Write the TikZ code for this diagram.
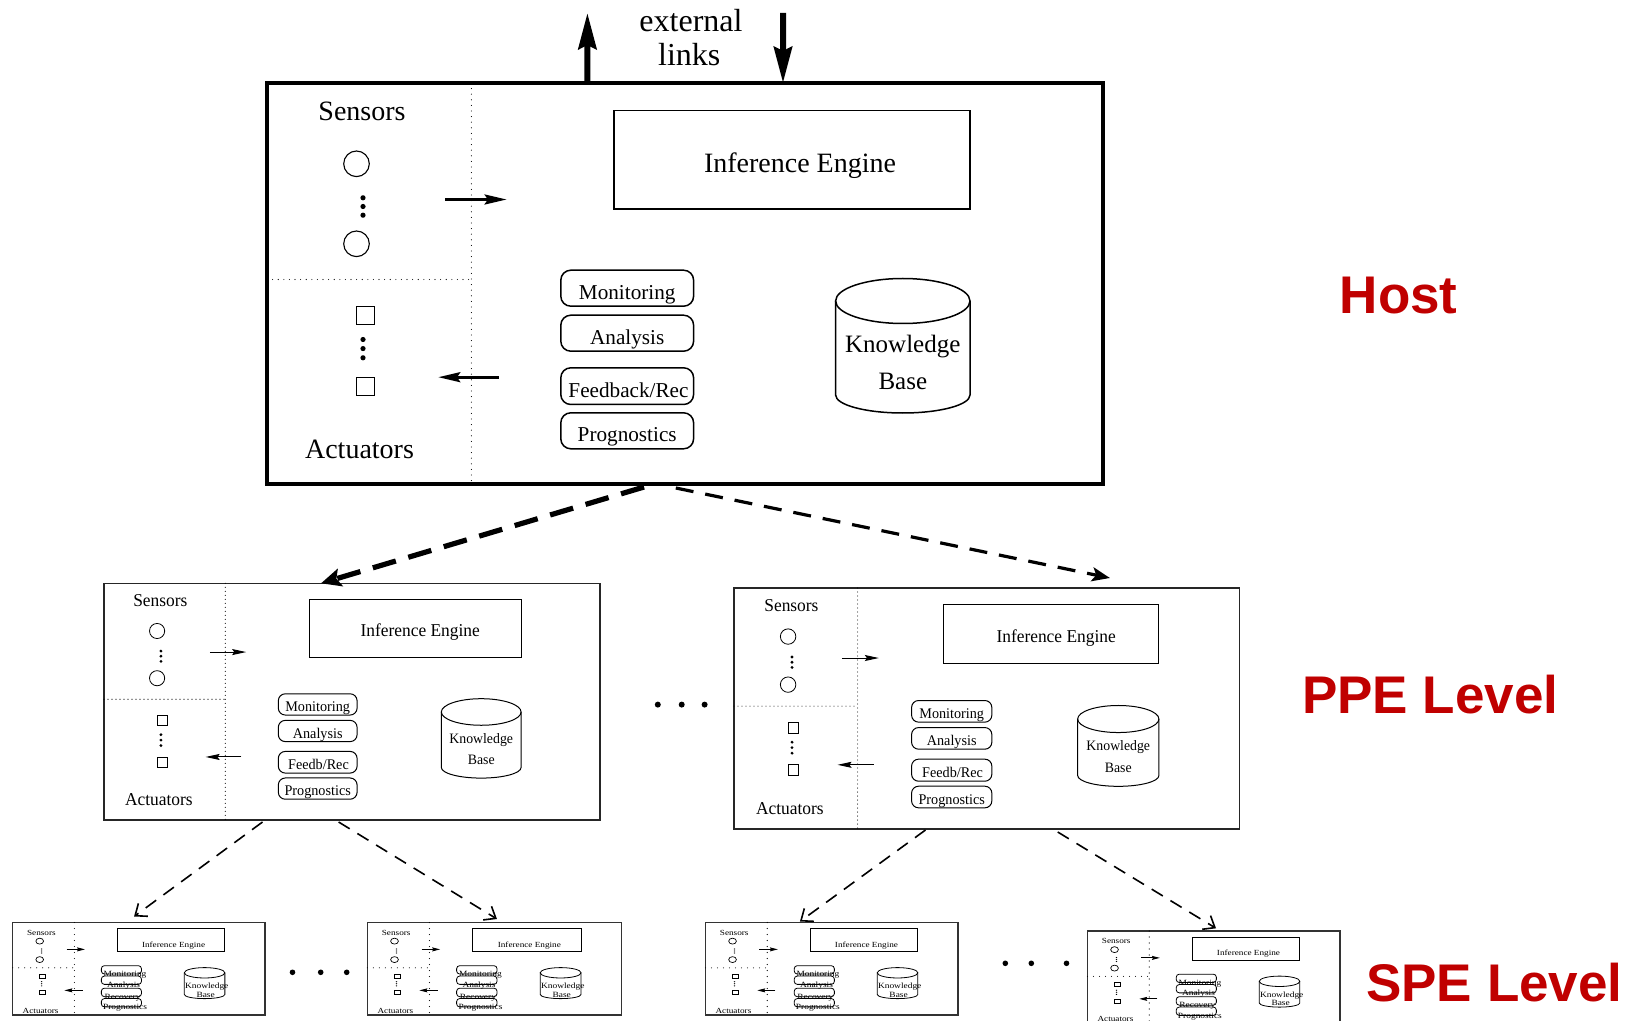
\documentclass[tikz,border=0pt]{standalone}
\usepackage{fontspec}
\setmainfont{Liberation Serif}
\newfontfamily\labelfont{Liberation Sans}
\usetikzlibrary{arrows.meta,calc}
\definecolor{lvlred}{RGB}{192,0,0}

\newcommand\T[1]{\scalebox{1}[\Tys]{#1}}
\newcommand\fs[1]{\fontsize{#1}{#1}\selectfont}

\tikzset{
  txt/.style={inner sep=0pt, outer sep=0pt, text height=0.66em, text depth=0pt},
  outerbox/.style={draw, inner sep=0pt, outer sep=0pt, anchor=north west},
  dotline/.style={line width=0.55pt, line cap=round, dash pattern=on 0pt off \Dg},
  inarrow/.style={line width=\Alw, -{Stealth[length=\Alen, width=\Awid, inset=0.15*\Alen]}},
  extarrow/.style={line width=3pt, -{Stealth[length=18pt, width=9pt, inset=2pt]}},
  hdashA/.style={line width=2.6pt, dash pattern=on 12pt off 6.5pt, -{Stealth[length=10pt, width=9pt, inset=2pt]}},
  hdashB/.style={line width=1.6pt, dash pattern=on 9pt off 6pt, -{Stealth[length=9pt, width=7pt, inset=2pt]}},
  ldash/.style={line width=0.8pt, dash pattern=on 6.5pt off 4.5pt, -{Straight Barb[length=5pt, width=8pt, line width=0.8pt]}},
  lvllabel/.style={anchor=base, inner sep=0pt, font=\labelfont\bfseries\fs{26.5}, text=lvlred},
}

% #1 name, #2 x, #3 y, #4 w, #5 h, #6 feedback label, #7 outer box options
\newcommand\unitbox[7]{%
  \node[outerbox, #7, minimum width=#4*0.5pt, minimum height=#5*0.5pt] (#1) at (#2,#3) {};
  \begin{scope}[shift={(#2,#3)}, xscale=#4/836, yscale=#5/401]
    \draw[dotline] (204.4,0) -- (204.4,401);
    \draw[dotline] (0,196.5) -- (204.4,196.5);
    \node[txt, font=\fs{\Fmain}] (#1-sensors) at (95,27.7+\Ty) {\T{Sensors}};
    \node[txt, font=\fs{\Fmain}] (#1-actuators) at (92.5,365.7+\Ty) {\T{Actuators}};
    \draw[line width=\Slw] (89.5,80.8) circle[radius=12.8] (89.5,160.8) circle[radius=12.8];
    \fill (96,114.8) circle[radius=2.6] (96,123.5) circle[radius=2.6] (96,132.2) circle[radius=2.6];
    \draw[line width=\Slw] (89.2,223.5) rectangle (107.2,241.5) (89.2,294.2) rectangle (107.2,312.2);
    \fill (96,256.5) circle[radius=2.6] (96,265.6) circle[radius=2.6] (96,274.8) circle[radius=2.6];
    \draw[inarrow] (178.4,116.5) -- (239.6,116.5);
    \draw[inarrow] (231.5,294.2) -- (171.3,294.2);
    \draw[line width=\Ilw] (347,27.5) rectangle (703,125.8);
    \node[txt, font=\fs{\Fmain}] (#1-ie) at (533,79+\Ty) {\T{Inference Engine}};
    \draw[line width=\Ilw, rounded corners=\Rc] (293.8,187.2) rectangle (426.6,223.2);
    \draw[line width=\Ilw, rounded corners=\Rc] (293.8,232.2) rectangle (426.6,268.2);
    \draw[line width=\Ilw, rounded corners=\Rc] (293.8,284.8) rectangle (426.6,321.5);
    \draw[line width=\Ilw, rounded corners=\Rc] (293.8,329.8) rectangle (426.6,365.8);
    \node[txt, font=\fs{\Fbox}] (#1-mon) at (360.2+\Bx,206.2+\Ty) {\T{Monitoring}};
    \node[txt, font=\fs{\Fbox}] (#1-ana) at (360.2+0.6*\Bx,251.2+\Ty) {\T{Analysis}};
    \node[txt, font=\fs{\Fbox}] (#1-fb) at (361.5+0.2*\Bx,304+\Ty) {\T{#6}};
    \node[txt, font=\fs{\Fbox}] (#1-pro) at (360.2+\Bx,348.8+\Ty) {\T{Prognostics}};
    \draw[line width=\Ilw] (635.8,218) ellipse[x radius=67.2, y radius=22.5];
    \draw[line width=\Ilw] (568.6,218) -- (568.6,312) arc[start angle=180, end angle=0, x radius=67.2, y radius=18] -- (703,218);
    \node[txt, font=\fs{\Fkb}] (#1-kb1) at (635.8+0.6*\Bx,259.6+\Ty) {\T{Knowledge}};
    \node[txt, font=\fs{\Fkb}] (#1-kb2) at (635.8+0.3*\Bx,296+\Ty) {\T{Base}};
  \end{scope}}

\begin{document}
\begin{tikzpicture}[x=0.5pt, y=-0.5pt]
\useasboundingbox (0,0) rectangle (1632,1021);
\fill[white] (0,0) rectangle (1632,1021);

% ---------- Host ----------
\def\Fmain{14}\def\Fbox{10.6}\def\Fkb{12.5}\def\Tys{1}\def\Ty{3.5}\def\Bx{0}
\def\Ilw{0.75pt}\def\Slw{0.55pt}\def\Rc{5pt}\def\Dg{2.8pt}
\def\Alen{11pt}\def\Awid{5pt}\def\Alw{1.4pt}
\unitbox{host}{267}{83}{836}{401}{Feedback/Rec}{line width=2pt}

% ---------- PPE level ----------
\def\Fmain{8.7}\def\Fbox{7.1}\def\Fkb{6.9}\def\Tys{1.04}\def\Ty{0}\def\Bx{0}
\def\Ilw{0.5pt}\def\Slw{0.4pt}\def\Rc{3.5pt}\def\Dg{2pt}
\def\Alen{7pt}\def\Awid{3pt}\def\Alw{0.5pt}
\unitbox{ppeA}{104}{583.3}{496}{236.7}{Feedb/Rec}{line width=0.65pt, draw=black!85}
\unitbox{ppeB}{734}{588}{505.3}{241}{Feedb/Rec}{line width=0.65pt, draw=black!85}

% ---------- SPE level ----------
\def\Fmain{4.6}\def\Fbox{4.7}\def\Fkb{4.7}\def\Tys{0.85}\def\Ty{0}\def\Bx{12}
\def\Ilw{0.4pt}\def\Slw{0.35pt}\def\Rc{1.5pt}\def\Dg{3pt}
\def\Alen{4pt}\def\Awid{2pt}\def\Alw{0.45pt}
\unitbox{speA}{12.7}{922.5}{252.3}{92.5}{Recovery}{line width=0.55pt, draw=black!80}
\unitbox{speB}{367.3}{922.5}{254.2}{92.5}{Recovery}{line width=0.55pt, draw=black!80}
\unitbox{speC}{705.5}{922.5}{252.5}{92.5}{Recovery}{line width=0.55pt, draw=black!80}
\unitbox{speD}{1087.5}{931}{252.5}{92.5}{Recovery}{line width=0.55pt, draw=black!80}

% ---------- external links ----------
\coordinate (extUp) at (587.4,13);
\coordinate (extDn) at (783,13);
\draw[extarrow] ($(host.north west)!0.3833!(host.north east)$) -- (extUp);
\draw[extarrow] (extDn) -- ($(host.north west)!0.6172!(host.north east)$);
\node[anchor=base, inner sep=0pt, font=\fs{16}] (ext1) at (691,31.7) {external};
\node[anchor=base, inner sep=0pt, font=\fs{16}] (ext2) at (689.3,65.7) {links};

% ---------- hierarchy connectors ----------
\draw[hdashA] ($(host.south west)!0.451!(host.south east)+(0,3)$) -- ($(ppeA.north west)!0.4375!(ppeA.north east)$);
\draw[hdashB] ($(host.south west)!0.489!(host.south east)+(0,4)$) -- ($(ppeB.north west)!0.744!(ppeB.north east)+(0,-10)$);

\draw[ldash] ($(ppeA.south west)!0.3196!(ppeA.south east)+(0,2)$) -- ($(speA.north west)!0.481!(speA.north east)+(0,-6)$);
\draw[ldash] ($(ppeA.south west)!0.473!(ppeA.south east)+(0,2)$) -- ($(speB.north west)!0.510!(speB.north east)+(0,-3.5)$);
\draw[ldash] ($(ppeB.south west)!0.379!(ppeB.south east)+(0,1)$) -- ($(speC.north west)!0.374!(speC.north east)+(0,-1)$);
\draw[ldash] ($(ppeB.south west)!0.6406!(ppeB.south east)+(0,3)$) -- ($(speD.north west)!0.509!(speD.north east)+(0,-2.7)$);

% ---------- ellipsis dots ----------
\fill (657.8,704.6) circle[radius=3] (681.7,704.6) circle[radius=3] (704.6,704.6) circle[radius=3];
\fill (292.5,972.3) circle[radius=2.8] (320.7,972.3) circle[radius=2.8] (346.7,972.3) circle[radius=2.8];
\fill (1005.3,963.3) circle[radius=2.8] (1031.3,963.3) circle[radius=2.8] (1066.5,963.3) circle[radius=2.8];

% ---------- level labels ----------
\node[lvllabel] (lblHost) at (1398.7,314) {Host};
\node[lvllabel] (lblPPE) at (1430.3,713.1) {PPE Level};
\node[lvllabel] (lblSPE) at (1494.4,1001.2) {SPE Level};
\end{tikzpicture}
\end{document}
